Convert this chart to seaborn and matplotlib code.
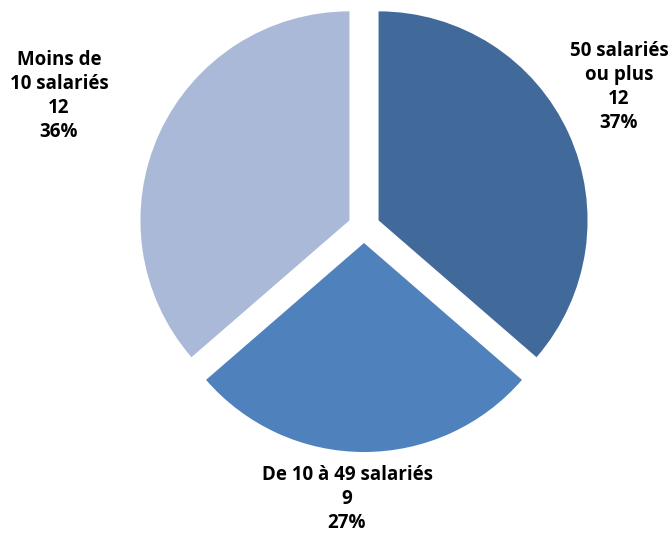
import matplotlib
matplotlib.use("Agg")
import matplotlib.pyplot as plt
import seaborn as sns

# Répartition des établissements par taille
categories = ["50 salariés\nou plus", "De 10 à 49 salariés", "Moins de\n10 salariés"]
counts = [12, 9, 12]
shares = [37, 27, 36]
colors = ["#416A9B", "#4F81BD", "#AAB9D7"]

sns.set_theme(style="white")
plt.rcParams["font.family"] = ["Open Sans", "DejaVu Sans"]

W, H = 672, 534
fig = plt.figure(figsize=(W / 100, H / 100), dpi=100)
ax = fig.add_axes([0, 0, 1, 1])

# pie geometry in pixels
cx, cy, R = 364, 227, 209
ax.pie(counts, colors=colors, startangle=90, counterclock=False,
       explode=[16 / R] * 3, radius=1,
       wedgeprops={"linewidth": 0})
ax.set_xlim(-cx / R, (W - cx) / R)
ax.set_ylim(-(H - cy) / R, cy / R)
ax.set_aspect("auto")
ax.axis("off")

# label anchors (pixel centres)
label_pos = [(619, 87), (347, 499), (59, 96)]
for (px, py), cat, n, s in zip(label_pos, categories, counts, shares):
    fig.text(px / W, 1 - py / H, f"{cat}\n{n}\n{s}%", ha="center", va="center",
             fontsize=13.5, fontweight="bold", color="black", linespacing=1.25)

fig.savefig("out.png", dpi=100)
